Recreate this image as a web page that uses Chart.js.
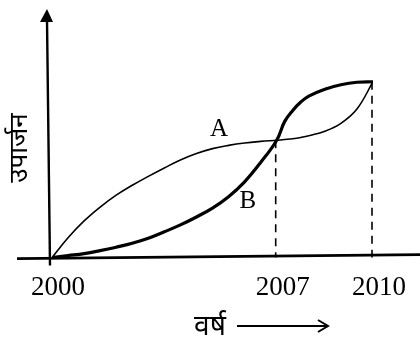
<!DOCTYPE html>
<html>
<head>
<meta charset="utf-8">
<script src="https://cdn.jsdelivr.net/npm/chart.js@4.4.1/dist/chart.umd.min.js"></script>
<style>
    html, body { margin: 0; padding: 0; background: #fff; }
    .wrap { width: 420px; height: 343px; position: relative; }
</style>
</head>
<body>
<div class="wrap"><canvas class="upaarjanChart"></canvas></div>
<script>
// data (years on x, earnings in arbitrary units on y)
const years = [2000, 2000.5, 2001, 2001.5, 2002, 2002.5, 2003, 2003.5, 2004, 2004.5, 2005,
    2005.5, 2006, 2006.5, 2007, 2007.25, 2007.5, 2007.75, 2008, 2008.5, 2009, 2009.5, 2010];
const valuesA = [0, 2.0, 3.7, 5.1, 6.3, 7.3, 8.2, 9.05, 9.85, 10.5, 11.0,
    11.33, 11.57, 11.73, 11.85, 11.92, 12.0, 12.13, 12.3, 12.75, 13.55, 15.0, 17.75];
const valuesB = [0, 0.2, 0.4, 0.7, 1.05, 1.45, 1.95, 2.6, 3.3, 4.1, 5.0,
    6.15, 7.65, 9.6, 11.85, 13.75, 14.85, 15.7, 16.3, 17.0, 17.45, 17.7, 17.75];
const tickYears = [2000, 2007, 2010];
const markedYears = [2007, 2010];
const seriesNames = ['A', 'B'];
const xAxisLabel = 'वर्ष';
const yAxisLabel = 'उपार्जन';

const upaarjanChartDOM = document.querySelector('.upaarjanChart');
const serifFont = '"Liberation Serif", "Times New Roman", serif';

const toPoints = (values) => years.map((year, i) => ({ x: year, y: values[i] }));

// axes with arrows, dashed guides, curve names and axis titles
const drawingPlugin = {
    id: 'drawingPlugin',
    afterDatasetsDraw(chart) {
        const { ctx, scales: { x, y } } = chart;
        const x0 = x.getPixelForValue(2000);
        const y0 = y.getPixelForValue(0);
        ctx.save();
        ctx.strokeStyle = '#000';
        ctx.fillStyle = '#000';

        // dashed verticals down from the curve at the marked years
        ctx.lineWidth = 1.6;
        ctx.setLineDash([8, 6]);
        markedYears.forEach(year => {
            const i = years.indexOf(year);
            const px = x.getPixelForValue(year) - 1;
            ctx.beginPath();
            ctx.moveTo(px, y.getPixelForValue(valuesA[i]));
            ctx.lineTo(px, y0);
            ctx.stroke();
        });
        ctx.setLineDash([]);

        // x axis
        ctx.lineWidth = 2.6;
        ctx.beginPath();
        ctx.moveTo(17, y0 + 1);
        ctx.lineTo(chart.width, y0 - 3);
        ctx.stroke();

        // y axis with filled arrow head
        ctx.lineWidth = 2.4;
        ctx.beginPath();
        ctx.moveTo(x0 - 2, y0 + 8);
        ctx.lineTo(x0 - 5, 20);
        ctx.stroke();
        ctx.beginPath();
        ctx.moveTo(x0 - 5, 9);
        ctx.lineTo(x0 - 12, 22);
        ctx.lineTo(x0 + 1, 22);
        ctx.closePath();
        ctx.fill();

        // names of the curves
        ctx.font = '25px ' + serifFont;
        ctx.textAlign = 'center';
        ctx.textBaseline = 'middle';
        ctx.fillText(seriesNames[0], x.getPixelForValue(2005.2), y.getPixelForValue(12.9));
        ctx.fillText(seriesNames[1], x.getPixelForValue(2006.1), y.getPixelForValue(5.7));

        // x title with arrow
        ctx.font = '28px "Noto Sans", sans-serif';
        ctx.fillText(xAxisLabel, 210, 327);
        ctx.lineWidth = 2;
        ctx.beginPath();
        ctx.moveTo(237, 326);
        ctx.lineTo(328, 326);
        ctx.moveTo(318, 320);
        ctx.lineTo(328, 326);
        ctx.lineTo(318, 332);
        ctx.stroke();

        // y title, rotated
        ctx.translate(20, 148);
        ctx.rotate(-Math.PI / 2);
        ctx.font = '26px "Noto Sans", sans-serif';
        ctx.fillText(yAxisLabel, 0, 0);
        ctx.restore();
    }
};

const config = {
    type: 'line',
    data: {
        datasets: [{
            label: seriesNames[0],
            data: toPoints(valuesA),
            borderColor: '#000',
            borderWidth: 1.6,
            pointRadius: 0,
            fill: false,
            tension: 0.4
        }, {
            label: seriesNames[1],
            data: toPoints(valuesB),
            borderColor: '#000',
            borderWidth: 3.2,
            pointRadius: 0,
            fill: false,
            tension: 0.4
        }]
    },
    options: {
        responsive: true,
        maintainAspectRatio: false,
        animation: false,
        layout: { padding: { left: 52, right: 47, top: 0, bottom: 25 } },
        plugins: { legend: { display: false }, tooltip: { enabled: false } },
        scales: {
            x: {
                type: 'linear',
                min: 2000,
                max: 2010,
                afterBuildTicks: (scale) => { scale.ticks = tickYears.map(v => ({ value: v })); },
                grid: { display: false, drawTicks: false },
                border: { display: false },
                ticks: {
                    color: '#000',
                    padding: 14,
                    labelOffset: 6,
                    autoSkip: false,
                    maxRotation: 0,
                    font: { family: serifFont, size: 27 },
                    callback: (value) => String(value)
                }
            },
            y: {
                display: false,
                min: 0,
                max: 26
            }
        }
    },
    plugins: [drawingPlugin]
};

new Chart(upaarjanChartDOM, config);
</script>
</body>
</html>
